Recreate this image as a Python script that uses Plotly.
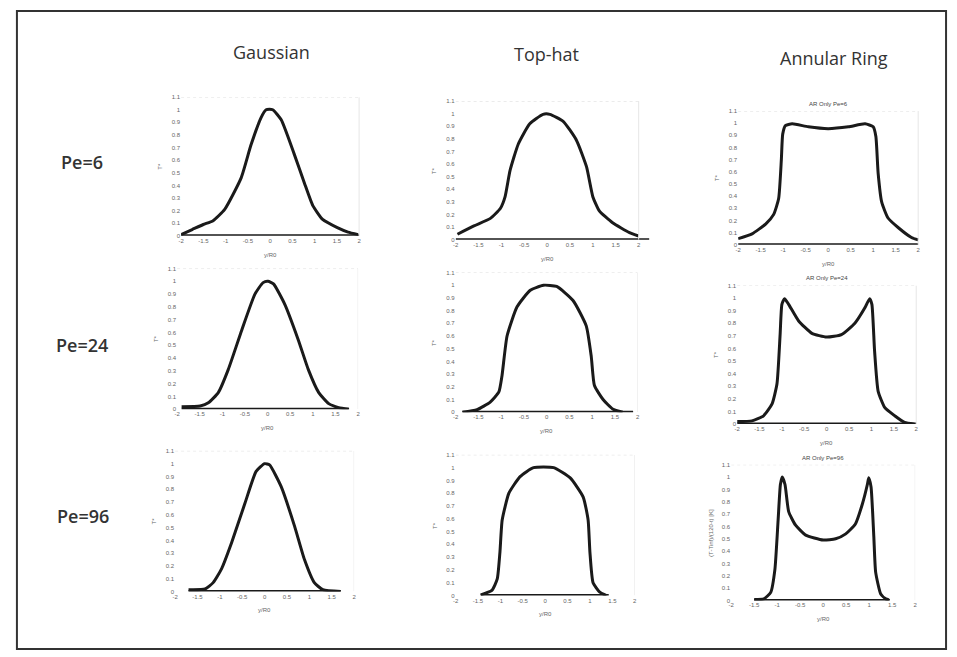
import plotly.graph_objects as go

W, H = 957, 657

# ---- Temperature profiles T* versus y/R0 (three beam shapes x three Peclet numbers) ----
gauss_pe6_x = [-2.0, -1.75, -1.5, -1.28, -1.02, -0.65, -0.43, -0.2, -0.09, 0.06, 0.25, 0.54, 0.77, 0.96, 1.18, 1.51, 1.75, 1.98]
gauss_pe6_y = [0.01, 0.05, 0.09, 0.12, 0.21, 0.46, 0.72, 0.94, 1.0, 1.0, 0.92, 0.65, 0.42, 0.24, 0.13, 0.065, 0.03, 0.01]
gauss_pe6_base = [-2.0, 2.0]

tophat_pe6_x = [-1.96, -1.6, -1.24, -1.02, -0.92, -0.81, -0.63, -0.38, -0.09, 0.06, 0.35, 0.64, 0.86, 1.0, 1.14, 1.43, 1.8, 2.0]
tophat_pe6_y = [0.044, 0.11, 0.17, 0.25, 0.34, 0.55, 0.76, 0.92, 0.995, 0.995, 0.94, 0.79, 0.58, 0.34, 0.23, 0.135, 0.057, 0.03]
tophat_pe6_base = [-2.0, 2.23]

ar_pe6_x = [-2.0, -1.69, -1.39, -1.21, -1.1, -1.04, -1.01, -0.95, -0.8, -0.44, 0.0, 0.45, 0.82, 1.0, 1.06, 1.11, 1.19, 1.33, 1.56, 1.85, 2.0]
ar_pe6_y = [0.05, 0.09, 0.17, 0.25, 0.38, 0.70, 0.91, 0.98, 0.995, 0.97, 0.955, 0.97, 0.995, 0.97, 0.89, 0.59, 0.35, 0.22, 0.14, 0.06, 0.04]
ar_pe6_base = [-2.0, 2.0]

gauss_pe24_x = [-1.9, -1.49, -1.31, -1.09, -0.87, -0.57, -0.28, -0.1, 0.01, 0.13, 0.38, 0.68, 0.9, 1.13, 1.35, 1.57, 1.79]
gauss_pe24_y = [0.02, 0.026, 0.05, 0.13, 0.31, 0.62, 0.9, 0.99, 1.0, 0.98, 0.82, 0.54, 0.31, 0.13, 0.044, 0.013, 0.0]
gauss_pe24_base = [-1.9, 1.8]

tophat_pe24_x = [-1.85, -1.53, -1.24, -1.05, -0.98, -0.87, -0.65, -0.36, -0.07, 0.22, 0.58, 0.87, 0.98, 1.05, 1.24, 1.45, 1.67]
tophat_pe24_y = [0.0, 0.02, 0.08, 0.16, 0.29, 0.6, 0.83, 0.96, 1.0, 0.99, 0.88, 0.68, 0.44, 0.21, 0.10, 0.026, 0.0]
tophat_pe24_base = [-1.85, 1.9]

ar_pe24_x = [-2.0, -1.67, -1.41, -1.22, -1.11, -1.04, -1.0, -0.94, -0.85, -0.63, -0.33, 0.0, 0.33, 0.63, 0.85, 0.96, 1.01, 1.07, 1.15, 1.3, 1.52, 1.74, 1.96]
ar_pe24_y = [0.02, 0.026, 0.066, 0.16, 0.32, 0.71, 0.95, 0.995, 0.95, 0.82, 0.72, 0.69, 0.71, 0.80, 0.92, 0.995, 0.95, 0.58, 0.26, 0.13, 0.066, 0.013, 0.0]
ar_pe24_base = [-2.0, 2.0]

gauss_pe96_x = [-1.7, -1.33, -1.15, -0.96, -0.74, -0.44, -0.19, 0.0, 0.11, 0.37, 0.67, 0.89, 1.11, 1.3, 1.7]
gauss_pe96_y = [0.015, 0.02, 0.07, 0.18, 0.38, 0.69, 0.94, 1.0, 0.99, 0.82, 0.51, 0.25, 0.07, 0.015, 0.0]
gauss_pe96_base = [-1.7, 1.7]

tophat_pe96_x = [-1.44, -1.19, -1.07, -1.01, -0.96, -0.81, -0.56, -0.26, 0.19, 0.56, 0.85, 0.96, 1.0, 1.07, 1.22, 1.37]
tophat_pe96_y = [0.005, 0.04, 0.13, 0.34, 0.59, 0.8, 0.93, 1.0, 1.0, 0.92, 0.77, 0.59, 0.34, 0.10, 0.026, 0.0]
tophat_pe96_base = [-1.44, 1.42]

ar_pe96_x = [-1.5, -1.29, -1.14, -1.05, -0.98, -0.93, -0.89, -0.83, -0.75, -0.6, -0.38, 0.0, 0.27, 0.49, 0.7, 0.85, 0.96, 0.99, 1.04, 1.1, 1.14, 1.25, 1.36, 1.43]
ar_pe96_y = [0.008, 0.013, 0.066, 0.25, 0.65, 0.94, 1.0, 0.94, 0.72, 0.61, 0.53, 0.49, 0.50, 0.54, 0.62, 0.78, 0.94, 0.995, 0.92, 0.52, 0.23, 0.053, 0.013, 0.005]
ar_pe96_base = [-1.5, 1.45]

x_ticks = [-2, -1.5, -1, -0.5, 0, 0.5, 1, 1.5, 2]
x_tick_text = ["-2", "-1.5", "-1", "-0.5", "0", "0.5", "1", "1.5", "2"]
y_ticks = [0, 0.1, 0.2, 0.3, 0.4, 0.5, 0.6, 0.7, 0.8, 0.9, 1.0, 1.1]
y_tick_text = ["0", "0.1", "0.2", "0.3", "0.4", "0.5", "0.6", "0.7", "0.8", "0.9", "1", "1.1"]

column_titles = ["Gaussian", "Top-hat", "Annular Ring"]
row_labels = ["Pe=6", "Pe=24", "Pe=96"]

# Panel layout: pixel box of each small chart (left/right of x=-2..2, bottom/top of y=0..1.1)
panels = [
    dict(x=gauss_pe6_x, y=gauss_pe6_y, base=gauss_pe6_base, px=(179, 358), py=(235, 95), title=None, ytitle="T*"),
    dict(x=tophat_pe6_x, y=tophat_pe6_y, base=tophat_pe6_base, px=(455, 639), py=(239, 99), title=None, ytitle="T*"),
    dict(x=ar_pe6_x, y=ar_pe6_y, base=ar_pe6_base, px=(739, 920), py=(244, 109), title="AR Only Pe=6", ytitle="T*"),
    dict(x=gauss_pe24_x, y=gauss_pe24_y, base=gauss_pe24_base, px=(175, 357), py=(410, 268), title=None, ytitle="T*"),
    dict(x=tophat_pe24_x, y=tophat_pe24_y, base=tophat_pe24_base, px=(455, 638), py=(413, 272), title=None, ytitle="T*"),
    dict(x=ar_pe24_x, y=ar_pe24_y, base=ar_pe24_base, px=(738, 918), py=(425, 285), title="AR Only Pe=24", ytitle="T*"),
    dict(x=gauss_pe96_x, y=gauss_pe96_y, base=gauss_pe96_base, px=(173, 353), py=(594, 452), title=None, ytitle="T*"),
    dict(x=tophat_pe96_x, y=tophat_pe96_y, base=tophat_pe96_base, px=(455, 635), py=(598, 456), title=None, ytitle="T*"),
    dict(x=ar_pe96_x, y=ar_pe96_y, base=ar_pe96_base, px=(732, 917), py=(603, 466), title="AR Only Pe=96", ytitle="(T-Tinf)/(120-t) [K]"),
]

X0, X1 = -2.0, 2.0
Y0, Y1 = 0.0, 1.1


def fx(px):
    return px / W


def fy(py):
    return 1 - py / H


def label(text, px, py, size, color="#666666", family="Liberation Sans", angle=0, weight="normal"):
    return dict(text=text, x=fx(px), y=fy(py), xref="paper", yref="paper",
                xanchor="center", yanchor="middle", showarrow=False, textangle=angle,
                font=dict(family=family, size=size, color=color, weight=weight))


fig = go.Figure()
layout = dict(
    width=W, height=H,
    margin=dict(l=0, r=0, t=0, b=0),
    paper_bgcolor="white", plot_bgcolor="rgba(0,0,0,0)",
    showlegend=False,
    annotations=[], shapes=[],
)

tick_font = dict(family="Liberation Sans", size=6, color="#666666")
line_color = "#1a1a1a"

for i, p in enumerate(panels, start=1):
    xa = "x" if i == 1 else f"x{i}"
    ya = "y" if i == 1 else f"y{i}"
    left, right = p["px"]
    bottom, top = p["py"]

    fig.add_trace(go.Scatter(x=p["base"], y=[0, 0], mode="lines",
                             line=dict(color=line_color, width=3),
                             xaxis=xa, yaxis=ya, hoverinfo="skip"))
    fig.add_trace(go.Scatter(x=p["x"], y=p["y"], mode="lines",
                             line=dict(color=line_color, width=3, shape="spline", smoothing=0.5),
                             xaxis=xa, yaxis=ya))

    # extend the x range for panels whose baseline runs past x=2
    ppu = (right - left) / (X1 - X0)
    xmax = max(X1, p["base"][1] + 0.02)
    right_ext = left + (xmax - X0) * ppu

    layout["xaxis" if i == 1 else f"xaxis{i}"] = dict(
        domain=[fx(left), fx(right_ext)], range=[X0, xmax], anchor=ya,
        tickvals=x_ticks, ticktext=x_tick_text, tickfont=tick_font,
        showgrid=False, zeroline=False, showline=False, ticks="", ticklen=0,
    )
    layout["yaxis" if i == 1 else f"yaxis{i}"] = dict(
        domain=[fy(bottom), fy(top)], range=[Y0, Y1], anchor=xa,
        tickvals=y_ticks, ticktext=y_tick_text, tickfont=tick_font,
        showgrid=False, zeroline=False, showline=False, ticks="", ticklen=0,
    )

    # faint frame lines at the top and right of each small chart
    layout["shapes"].append(dict(type="line", xref=xa, yref=ya, x0=X0, x1=X1, y0=Y1, y1=Y1,
                                 line=dict(color="#dddddd", width=1, dash="dot")))
    layout["shapes"].append(dict(type="line", xref=xa, yref=ya, x0=X1, x1=X1, y0=Y0, y1=Y1,
                                 line=dict(color="#e6e6e6", width=1)))

    # axis titles
    layout["annotations"].append(label("y/R0", (left + right) / 2, bottom + 19, 6))
    layout["annotations"].append(label(p["ytitle"], left - 21, (top + bottom) / 2, 6, angle=-90))
    if p["title"]:
        layout["annotations"].append(label(p["title"], (left + right) / 2, top - 7, 6, color="#444444"))

# column headings
col_pos = [(270, 49), (546, 51), (835, 56)]
for text, (cx, cy) in zip(column_titles, col_pos):
    layout["annotations"].append(label(text, cx, cy, 18, color="#333333", family="Open Sans"))

# row headings
row_pos = [(79, 160), (79, 345), (80, 518)]
for text, (rx, ry) in zip(row_labels, row_pos):
    layout["annotations"].append(label(text, rx, ry, 18, color="#333333", family="Open Sans", weight=600))

# outer frame
layout["shapes"].append(dict(type="rect", xref="paper", yref="paper",
                             x0=fx(14), x1=fx(948), y0=fy(652), y1=fy(8),
                             line=dict(color="#333333", width=2)))

fig.update_layout(**layout)
fig.write_html("out.html")
